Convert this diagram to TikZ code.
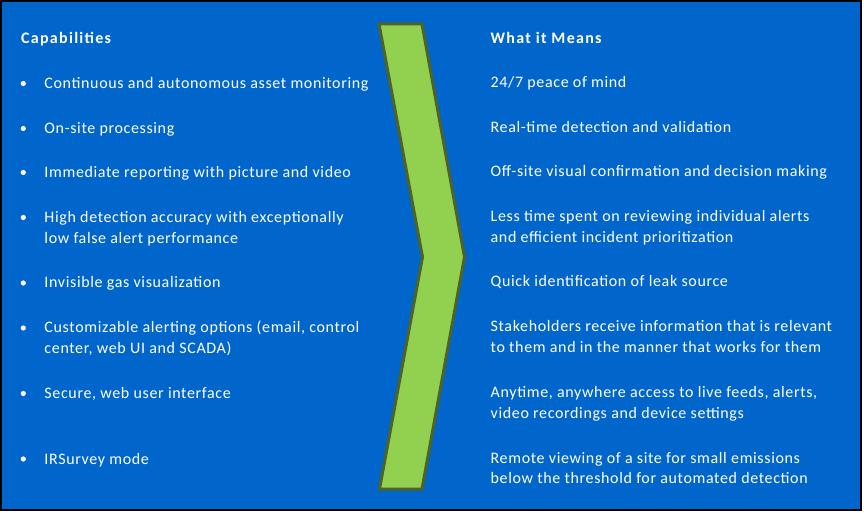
\documentclass[tikz,border=0pt]{standalone}
\usepackage{fontspec}
\setmainfont{Carlito}[LetterSpace=4]
\newfontfamily\headfont{Carlito}[LetterSpace=8]
\definecolor{bgblue}{HTML}{0066CC}
\definecolor{chevfill}{HTML}{92D050}
\definecolor{chevline}{HTML}{4F6228}
\begin{document}
\begin{tikzpicture}[x=1bp,y=-1bp,
  txt/.style={anchor=base west,inner sep=0pt,text=white,align=left,
    font=\fontsize{16bp}{20.6bp}\selectfont},
  head/.style={txt,font=\headfont\fontsize{16bp}{20.6bp}\selectfont\bfseries},
  bul/.style={circle,fill=white,inner sep=0pt,minimum size=5.2bp}]
\useasboundingbox (0,0) rectangle (864,513);
\fill[white] (0,0) rectangle (864,513);
\filldraw[fill=bgblue,draw=black,line width=2bp] (1,1) rectangle (861,510);
% chevron
\filldraw[fill=chevfill,draw=chevline,line width=3bp,line join=miter]
  (379,24) -- (422,24) -- (464.5,257) -- (422,489) -- (379.5,489) -- (422.5,257) -- cycle;
% left column (two-line nodes are placed by the baseline of their last line)
\node[head] (capH) at (21,43.5) {Capabilities};
\node[txt] (c1) at (44.3,88.5) {Continuous and autonomous asset monitoring};
\node[txt] (c2) at (44.3,133.5) {On-site processing};
\node[txt] (c3) at (44.3,177.5) {Immediate reporting with picture and video};
\node[txt] (c4) at (44.3,243.1) {High detection accuracy with exceptionally\\low false alert performance};
\node[txt] (c5) at (44.3,288) {Invisible gas visualization};
\node[txt] (c6) at (44.3,353.6) {Customizable alerting options (email, control\\center, web UI and SCADA)};
\node[txt] (c7) at (44.3,398.5) {Secure, web user interface};
\node[txt] (c8) at (44.3,464) {IRSurvey mode};
\foreach \y [count=\i] in {88.5,133.5,177.5,222.5,288,333,398.5,464}
  \node[bul] (b\i) at (23.3,\y-5) {};
% right column
\node[head] (wimH) at (490.5,44) {What it Means};
\node[txt] (m1) at (490.5,88) {24/7 peace of mind};
\node[txt] (m2) at (490.5,133) {Real-time detection and validation};
\node[txt] (m3) at (490.5,177) {Off-site visual confirmation and decision making};
\node[txt] (m4) at (490.5,242.6) {Less time spent on reviewing individual alerts\\and efficient incident prioritization};
\node[txt] (m5) at (490.5,287) {Quick identification of leak source};
\node[txt] (m6) at (490.5,352.6) {Stakeholders receive information that is relevant\\to them and in the manner that works for them};
\node[txt] (m7) at (490.5,418.1) {Anytime, anywhere access to live feeds, alerts,\\video recordings and device settings};
\node[txt] (m8) at (490.5,483.6) {Remote viewing of a site for small emissions\\below the threshold for automated detection};
\end{tikzpicture}
\end{document}
